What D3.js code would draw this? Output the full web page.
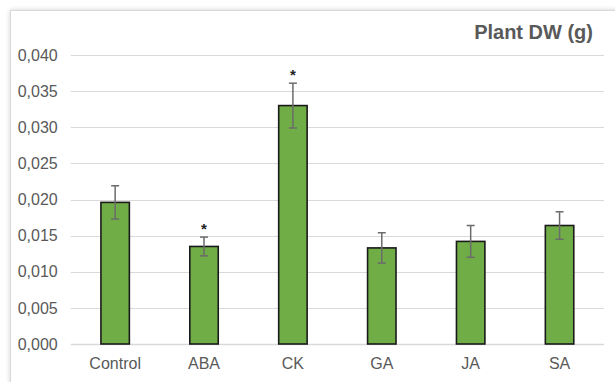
<!DOCTYPE html>
<html>
<head>
<meta charset="utf-8">
<script src="https://cdn.jsdelivr.net/npm/d3@7"></script>
<style>
  html, body { margin: 0; padding: 0; background: #ffffff; }
  svg { display: block; font-family: "Liberation Sans", Arial, sans-serif; }
</style>
</head>
<body>
<svg id="chart" width="615" height="382"></svg>
<script>
// Plant dry weight per hormone treatment (mean ± error)
const categories = ["Control", "ABA", "CK", "GA", "JA", "SA"];
const means = [0.0196, 0.0135, 0.0330, 0.0133, 0.0142, 0.0164];
const errors = [0.0023, 0.0013, 0.0031, 0.0021, 0.0022, 0.0019];
const significant = [false, true, true, false, false, false];
const yTicks = [0, 0.005, 0.010, 0.015, 0.020, 0.025, 0.030, 0.035, 0.040];
const title = "Plant DW (g)";

const svg = d3.select("#chart");
const textColor = "#595959";

// Chart frame with a soft shadow
const defs = svg.append("defs");
const shadow = defs.append("filter").attr("id", "shadow")
  .attr("x", "-10%").attr("y", "-10%").attr("width", "120%").attr("height", "120%");
shadow.append("feDropShadow")
  .attr("dx", 0).attr("dy", 0).attr("stdDeviation", 2.5)
  .attr("flood-color", "#000").attr("flood-opacity", 0.18);

svg.append("rect")
  .attr("x", 10.5).attr("y", 10.5)
  .attr("width", 640).attr("height", 400)
  .attr("fill", "#ffffff")
  .attr("stroke", "#d9d9d9").attr("stroke-width", 1)
  .attr("filter", "url(#shadow)");

const x = d3.scaleBand()
  .domain(categories)
  .range([70.7, 604])
  .paddingInner(0.68)
  .paddingOuter(0.34);

const y = d3.scaleLinear()
  .domain([0, 0.04])
  .range([344, 55]);

const fmt = v => d3.format(".3f")(v).replace(".", ",");

// Gridlines
svg.append("g")
  .selectAll("line")
  .data(yTicks)
  .join("line")
  .attr("x1", 70.7).attr("x2", 604)
  .attr("y1", d => Math.round(y(d)) + 0.5)
  .attr("y2", d => Math.round(y(d)) + 0.5)
  .attr("stroke", "#d9d9d9")
  .attr("stroke-width", d => d === 0 ? 1.5 : 1);

// Y axis labels
const yAxis = svg.append("g")
  .attr("transform", "translate(70.7,0)")
  .call(d3.axisLeft(y).tickValues(yTicks).tickFormat(fmt).tickSize(0).tickPadding(13));
yAxis.select(".domain").remove();
yAxis.selectAll("text")
  .attr("fill", textColor)
  .style("font-size", "16px")
  .style("font-family", "\"Liberation Sans\", Arial, sans-serif");

// X axis labels
const xAxis = svg.append("g")
  .attr("transform", "translate(0,344)")
  .call(d3.axisBottom(x).tickSize(0).tickPadding(13.5));
xAxis.select(".domain").remove();
xAxis.selectAll("text")
  .attr("fill", textColor)
  .style("font-size", "16px")
  .style("font-family", "\"Liberation Sans\", Arial, sans-serif");

const rows = categories.map((c, i) => ({ c, m: means[i], e: errors[i], s: significant[i] }));

// Bars
svg.append("g")
  .selectAll("rect")
  .data(rows)
  .join("rect")
  .attr("x", d => x(d.c))
  .attr("y", d => y(d.m))
  .attr("width", x.bandwidth())
  .attr("height", d => y(0) - y(d.m))
  .attr("fill", "#70ad47")
  .attr("stroke", "#1a1a1a")
  .attr("stroke-width", 1.6);

// Error bars
const eb = svg.append("g")
  .attr("stroke", "#6b6b6b")
  .attr("stroke-width", 1.5);
const cx = d => x(d.c) + x.bandwidth() / 2;
eb.selectAll("line.stem")
  .data(rows).join("line").attr("class", "stem")
  .attr("x1", cx).attr("x2", cx)
  .attr("y1", d => y(d.m + d.e)).attr("y2", d => y(d.m - d.e));
eb.selectAll("line.capTop")
  .data(rows).join("line").attr("class", "capTop")
  .attr("x1", d => cx(d) - 4).attr("x2", d => cx(d) + 4)
  .attr("y1", d => y(d.m + d.e)).attr("y2", d => y(d.m + d.e));
eb.selectAll("line.capBot")
  .data(rows).join("line").attr("class", "capBot")
  .attr("x1", d => cx(d) - 4).attr("x2", d => cx(d) + 4)
  .attr("y1", d => y(d.m - d.e)).attr("y2", d => y(d.m - d.e));

// Significance markers
svg.append("g")
  .selectAll("text")
  .data(rows.filter(d => d.s))
  .join("text")
  .attr("x", cx)
  .attr("y", d => y(d.m + d.e) - 3)
  .attr("text-anchor", "middle")
  .attr("fill", "#222")
  .style("font-size", "15px")
  .style("font-weight", "bold")
  .text("*");

// Title
svg.append("text")
  .attr("x", 593)
  .attr("y", 38.5)
  .attr("text-anchor", "end")
  .attr("fill", textColor)
  .style("font-size", "20px")
  .style("font-weight", "bold")
  .text(title);
</script>
</body>
</html>
